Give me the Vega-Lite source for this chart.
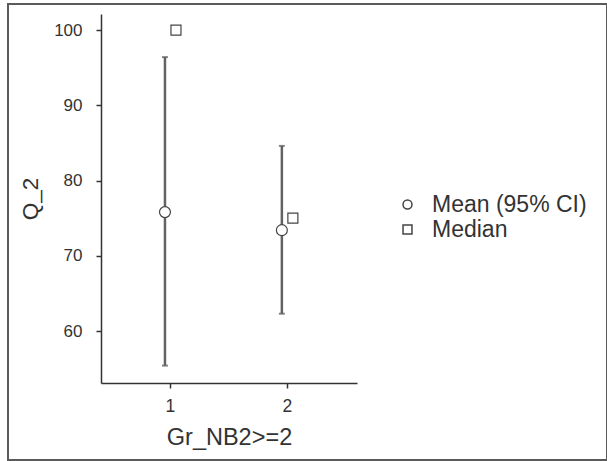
{
  "$schema": "https://vega.github.io/schema/vega-lite/v6.json",
  "width": 599,
  "height": 456,
  "autosize": {"type": "none"},
  "padding": {"left": 8, "top": 4, "right": 0, "bottom": 1},
  "background": "white",
  "config": {
    "view": {"stroke": "#5a5a5a", "strokeWidth": 2},
    "font": "Liberation Sans",
    "axis": {
      "grid": false,
      "domainColor": "#333333",
      "domainWidth": 1.5,
      "tickColor": "#333333",
      "tickWidth": 1.5,
      "tickSize": 5,
      "labelColor": "#333333",
      "titleColor": "#333333",
      "titleFontWeight": "normal",
      "labelFontSize": 17
    }
  },
  "data": {
    "values": [
      {"group": 1, "stat": "Mean (95% CI)", "value": 75.8, "lo": 55.4, "hi": 96.4},
      {"group": 2, "stat": "Mean (95% CI)", "value": 73.4, "lo": 62.3, "hi": 84.6},
      {"group": 1, "stat": "Median", "value": 100},
      {"group": 2, "stat": "Median", "value": 75}
    ]
  },
  "encoding": {
    "x": {
      "field": "group",
      "type": "quantitative",
      "scale": {"domain": [0.41, 2.6], "range": [93, 349], "nice": false, "zero": false},
      "axis": {"orient": "bottom", "offset": -77, "values": [1, 2], "title": "Gr_NB2>=2", "labelFontSize": 17.5, "titleFontSize": 23.5, "labelPadding": 9, "titlePadding": 11}
    }
  },
  "layer": [
    {
      "transform": [{"filter": "datum.stat === 'Mean (95% CI)'"}],
      "mark": {"type": "rule", "color": "#636363", "strokeWidth": 2.5, "xOffset": -5},
      "encoding": {
        "y": {
          "field": "lo",
          "type": "quantitative",
          "scale": {"domain": [53.09, 102.13], "range": [379, 10], "nice": false, "zero": false},
          "axis": {"orient": "left", "offset": -93, "values": [60, 70, 80, 90, 100], "title": "Q_2", "labelFontSize": 17, "titleFontSize": 22.5, "labelPadding": 14, "titlePadding": 11}
        },
        "y2": {"field": "hi"}
      }
    },
    {
      "transform": [{"filter": "datum.stat === 'Mean (95% CI)'"}],
      "mark": {"type": "tick", "orient": "horizontal", "size": 6, "thickness": 2, "color": "#555555", "xOffset": -5},
      "encoding": {
        "y": {"field": "lo", "type": "quantitative"}
      }
    },
    {
      "transform": [{"filter": "datum.stat === 'Mean (95% CI)'"}],
      "mark": {"type": "tick", "orient": "horizontal", "size": 6, "thickness": 2, "color": "#555555", "xOffset": -5},
      "encoding": {
        "y": {"field": "hi", "type": "quantitative"}
      }
    },
    {
      "transform": [{"filter": "datum.stat === 'Mean (95% CI)'"}],
      "mark": {"type": "point", "filled": false, "stroke": "#444444", "fill": "white", "fillOpacity": 1, "strokeWidth": 1.2, "size": 120, "xOffset": -5, "opacity": 1},
      "encoding": {
        "y": {"field": "value", "type": "quantitative"},
        "shape": {
          "field": "stat",
          "type": "nominal",
          "scale": {"domain": ["Mean (95% CI)", "Median"], "range": ["circle", "square"]},
          "legend": {
            "orient": "none",
            "legendX": 388,
            "legendY": 189,
            "title": null,
            "labelFontSize": 23,
            "labelFont": "Liberation Sans",
            "labelColor": "#333333",
            "symbolSize": 80,
            "rowPadding": 1,
            "labelOffset": 13,
            "encode": {
              "symbols": {
                "update": {
                  "stroke": {"value": "#333333"},
                  "fill": {"value": "white"},
                  "strokeWidth": {"value": 1},
                  "opacity": {"value": 1},
                  "fillOpacity": {"value": 1},
                  "strokeOpacity": {"value": 1}
                }
              }
            }
          }
        }
      }
    },
    {
      "transform": [{"filter": "datum.stat === 'Median'"}],
      "mark": {"type": "point", "filled": false, "stroke": "#444444", "fill": "white", "fillOpacity": 1, "strokeWidth": 1.2, "size": 100, "xOffset": 6, "opacity": 1},
      "encoding": {
        "y": {"field": "value", "type": "quantitative"},
        "shape": {"field": "stat", "type": "nominal"}
      }
    }
  ]
}
